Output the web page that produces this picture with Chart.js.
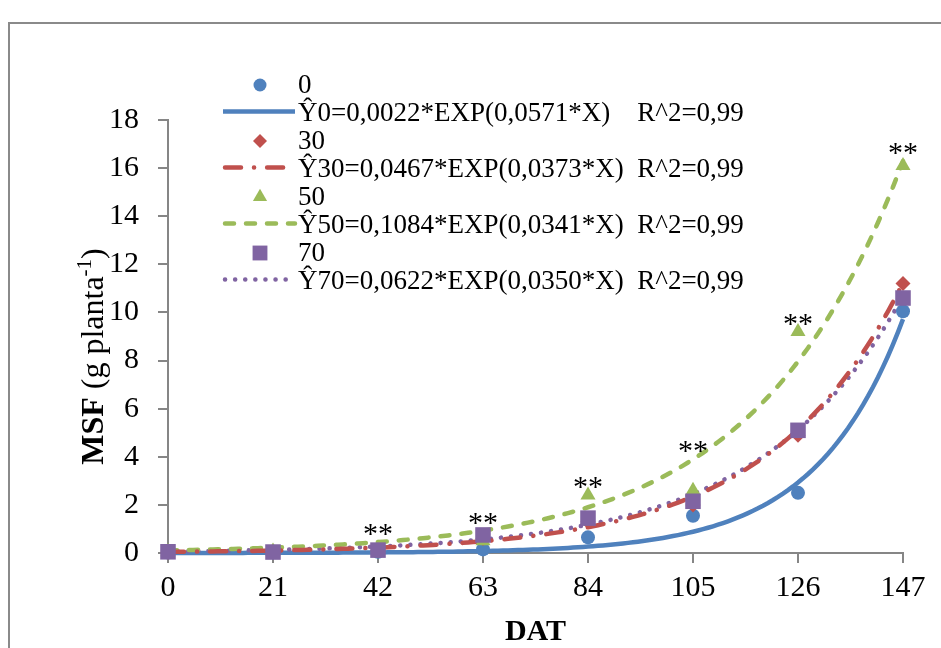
<!DOCTYPE html>
<html>
<head>
<meta charset="utf-8">
<script src="https://cdn.jsdelivr.net/npm/chart.js@4.4.1/dist/chart.umd.min.js"></script>
<style>
  html, body { margin: 0; padding: 0; background: #fff; }
  canvas { display: block; }
</style>
</head>
<body>
<canvas id="msfChart" width="941" height="648"></canvas>
<script>
// days after transplanting
const dat = [0, 21, 42, 63, 84, 105, 126, 147];

// observed shoot dry mass per dose
const msf0  = [0.02, 0.03, 0.05, 0.15, 0.65, 1.55, 2.50, 10.05];
const msf30 = [0.03, 0.05, 0.10, 0.60, 1.30, 2.00, 4.90, 11.20];
const msf50 = [0.05, 0.08, 0.20, 0.50, 2.40, 2.60, 9.20, 16.10];
const msf70 = [0.05, 0.04, 0.12, 0.75, 1.45, 2.15, 5.10, 10.60];

const doses = ['0', '30', '50', '70'];

// fitted model Y = a * exp(b * X)
const fitA = [0.0022, 0.0467, 0.1084, 0.0622];
const fitB = [0.0571, 0.0373, 0.0341, 0.0350];
const fitLabels = [
    'Ŷ0=0,0022*EXP(0,0571*X)    R^2=0,99',
    'Ŷ30=0,0467*EXP(0,0373*X)  R^2=0,99',
    'Ŷ50=0,1084*EXP(0,0341*X)  R^2=0,99',
    'Ŷ70=0,0622*EXP(0,0350*X)  R^2=0,99'
];

// significance marks per sampling date
const signif = ['', '', '**', '**', '**', '**', '**', '**'];

const xTicks = { min: 0, max: 147, step: 21 };
const yTicks = { min: 0, max: 18, step: 2 };

const observed = [msf0, msf30, msf50, msf70];
const colors = ['#4F81BD', '#C0504D', '#9BBB59', '#8064A2'];
const markers = ['circle', 'rectRot', 'triangle', 'rect'];
const markerSize = [7, 7.5, 8.7, 11];
const dashes = [[], [16, 13, 0.1, 13], [9, 12], [0.1, 10]];
const serif = "'Liberation Serif', 'Times New Roman', serif";
const axisGray = '#868686';

function fitCurve(i) {
    const pts = [];
    for (let x = xTicks.min; x <= xTicks.max; x++) {
        pts.push({ x: x, y: fitA[i] * Math.exp(fitB[i] * x) });
    }
    return pts;
}

const datasets = [];
// fitted curves underneath
[1, 2, 3, 0].forEach((i, k) => {
    datasets.push({
        label: fitLabels[i],
        data: fitCurve(i),
        showLine: true,
        borderColor: colors[i],
        borderWidth: 4.5,
        borderDash: dashes[i],
        borderCapStyle: dashes[i].length ? 'round' : 'butt',
        pointRadius: 0,
        tension: 0,
        clip: false,
        order: 20 + k
    });
});
// observed points on top, 70 drawn last
observed.forEach((vals, i) => {
    datasets.push({
        label: doses[i],
        data: vals.map((v, j) => ({ x: dat[j], y: v })),
        showLine: false,
        pointStyle: markers[i],
        pointRadius: markerSize[i],
        pointBackgroundColor: colors[i],
        pointBorderColor: colors[i],
        pointBorderWidth: 0,
        clip: false,
        order: 10 - i
    });
});

const frame = {
    id: 'frame',
    beforeDraw(chart) {
        const ctx = chart.ctx;
        ctx.save();
        ctx.strokeStyle = '#8a8a8a';
        ctx.lineWidth = 2;
        ctx.strokeRect(9, 23, 2000, 2000);
        ctx.restore();
    }
};

// y axis title with bold name and superscript unit
const yTitle = {
    id: 'yTitle',
    afterDraw(chart) {
        const ctx = chart.ctx;
        const area = chart.chartArea;
        const parts = [
            { t: 'MSF', f: 'bold 32px ' + serif, dy: 0 },
            { t: ' (g planta', f: '32px ' + serif, dy: 0 },
            { t: '-1', f: '21px ' + serif, dy: -12 },
            { t: ')', f: '32px ' + serif, dy: 0 }
        ];
        ctx.save();
        let w = 0;
        parts.forEach(p => { ctx.font = p.f; p.w = ctx.measureText(p.t).width; w += p.w; });
        ctx.translate(103, (area.top + area.bottom) / 2 + 20);
        ctx.rotate(-Math.PI / 2);
        ctx.fillStyle = '#000';
        ctx.textBaseline = 'alphabetic';
        let x = -w / 2;
        parts.forEach(p => {
            ctx.font = p.f;
            ctx.fillText(p.t, x, p.dy);
            x += p.w;
        });
        ctx.restore();
    }
};

// ** marks above the highest mark or curve at each date
const signifMarks = {
    id: 'signifMarks',
    afterDatasetsDraw(chart) {
        const ctx = chart.ctx;
        const xs = chart.scales.x, ys = chart.scales.y;
        ctx.save();
        ctx.font = '30px ' + serif;
        ctx.fillStyle = '#000';
        ctx.textAlign = 'center';
        ctx.textBaseline = 'alphabetic';
        dat.forEach((d, j) => {
            if (!signif[j]) return;
            const top = Math.max(msf0[j], msf30[j], msf50[j], msf70[j], fitA[2] * Math.exp(fitB[2] * d));
            ctx.fillText(signif[j], xs.getPixelForValue(d), ys.getPixelForValue(top) + 1);
        });
        ctx.restore();
    }
};

// legend: marker row then fitted line row for each dose
const sideLegend = {
    id: 'sideLegend',
    afterDraw(chart) {
        const ctx = chart.ctx;
        ctx.save();
        doses.forEach((d, i) => {
            const my = 85 + i * 56;
            const ly = my + 26.5;
            ctx.fillStyle = colors[i];
            ctx.strokeStyle = colors[i];
            ctx.lineWidth = 0;
            Chart.helpers.drawPoint(ctx, {
                pointStyle: markers[i], radius: markerSize[i] - 0.5, rotation: 0, borderWidth: 0
            }, 260, my);

            ctx.beginPath();
            ctx.lineWidth = 4.5;
            ctx.setLineDash(dashes[i]);
            ctx.lineCap = dashes[i].length ? 'round' : 'butt';
            ctx.moveTo(dashes[i].length ? 225 : 223, ly);
            ctx.lineTo(295, ly);
            ctx.stroke();
            ctx.setLineDash([]);

            ctx.fillStyle = '#000';
            ctx.font = '27px ' + serif;
            ctx.textBaseline = 'middle';
            ctx.fillText(d, 298, my + 1);
            ctx.fillText(fitLabels[i], 298, ly + 2);
        });
        ctx.restore();
    }
};

new Chart(document.getElementById('msfChart'), {
    type: 'line',
    data: { datasets: datasets },
    options: {
        responsive: false,
        animation: false,
        layout: { padding: { left: 0, right: 38, top: 120, bottom: 0 } },
        plugins: {
            legend: { display: false },
            tooltip: { enabled: false }
        },
        scales: {
            x: {
                type: 'linear',
                min: xTicks.min,
                max: xTicks.max,
                afterFit(scale) { scale.height = 95; },
                ticks: {
                    stepSize: xTicks.step,
                    color: '#000',
                    font: { family: serif, size: 30 },
                    padding: 7
                },
                grid: { drawOnChartArea: false, drawTicks: true, tickLength: 10, color: axisGray, lineWidth: 2 },
                border: { color: axisGray, width: 2 },
                title: {
                    display: true,
                    text: 'DAT',
                    color: '#000',
                    font: { family: serif, size: 30, weight: 'bold', lineHeight: 1 },
                    padding: { top: 0, bottom: 1 }
                }
            },
            y: {
                min: yTicks.min,
                max: yTicks.max,
                afterFit(scale) { scale.width = 168; },
                ticks: {
                    stepSize: yTicks.step,
                    color: '#000',
                    font: { family: serif, size: 30 },
                    padding: 19
                },
                grid: { drawOnChartArea: false, drawTicks: true, tickLength: 10, color: axisGray, lineWidth: 2 },
                border: { color: axisGray, width: 2 }
            }
        }
    },
    plugins: [frame, signifMarks, sideLegend, yTitle]
});
</script>
</body>
</html>
